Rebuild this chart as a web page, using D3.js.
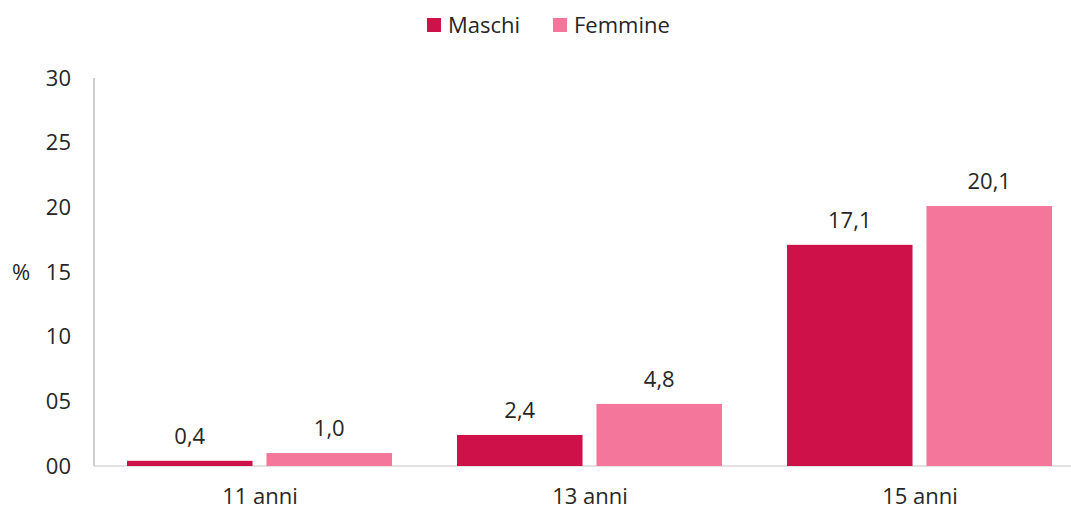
<!DOCTYPE html>
<html>
<head>
<meta charset="utf-8">
<script src="https://cdnjs.cloudflare.com/ajax/libs/d3/7.8.5/d3.min.js"></script>
<style>
  body { margin: 0; background: #fff; }
  svg text { font-family: "Open Sans", "Noto Sans", sans-serif; fill: #262626; font-size: 22px; }
</style>
</head>
<body>
<svg id="chart" width="1071" height="511"></svg>
<script>
// data
var categories = ["11 anni", "13 anni", "15 anni"];
var series = ["Maschi", "Femmine"];
var maschi = [0.4, 2.4, 17.1];
var femmine = [1.0, 4.8, 20.1];
var yTicks = [0, 5, 10, 15, 20, 25, 30];
var yTickLabels = ["00", "05", "10", "15", "20", "25", "30"];
var colors = ["#ce1149", "#f4769a"];

var svg = d3.select("#chart");
var mLeft = 94, mRight = 1084, mTop = 78, mBottom = 466;

var x = d3.scaleBand().domain(categories).range([mLeft, mRight]);
var xs = d3.scaleBand().domain(series).range([33, 298]).paddingInner(0.1);
var y = d3.scaleLinear().domain([0, 30]).range([mBottom, mTop]);

// axes lines
svg.append("line").attr("x1", mLeft).attr("x2", 1071).attr("y1", mBottom).attr("y2", mBottom)
  .attr("stroke", "#d9d9d9").attr("stroke-width", 1.5);
svg.append("line").attr("x1", mLeft).attr("x2", mLeft).attr("y1", mTop).attr("y2", mBottom)
  .attr("stroke", "#bfbfbf").attr("stroke-width", 1.5);

// y tick labels
svg.selectAll("text.ytick").data(yTicks).enter().append("text")
  .attr("class", "ytick")
  .attr("x", 71).attr("y", function(d) { return y(d); })
  .attr("dy", "0.35em").attr("text-anchor", "end")
  .text(function(d, i) { return yTickLabels[i]; });

svg.append("text").attr("x", 21).attr("y", y(15)).attr("dy", "0.35em")
  .attr("text-anchor", "middle").text("%");

// x labels
svg.selectAll("text.xtick").data(categories).enter().append("text")
  .attr("class", "xtick")
  .attr("x", function(d) { return x(d) + x.bandwidth() / 2 + 1; })
  .attr("y", 496).attr("dy", "0.35em").attr("text-anchor", "middle")
  .text(function(d) { return d; });

// bars
var rows = categories.map(function(c, i) {
  return { cat: c, vals: [{ s: series[0], v: maschi[i] }, { s: series[1], v: femmine[i] }] };
});

var groups = svg.selectAll("g.cat").data(rows).enter().append("g")
  .attr("class", "cat")
  .attr("transform", function(d) { return "translate(" + x(d.cat) + ",0)"; });

groups.selectAll("rect").data(function(d) { return d.vals; }).enter().append("rect")
  .attr("x", function(d) { return xs(d.s); })
  .attr("width", xs.bandwidth())
  .attr("y", function(d) { return y(d.v); })
  .attr("height", function(d) { return mBottom - y(d.v); })
  .attr("fill", function(d, i) { return colors[i]; });

groups.selectAll("text.val").data(function(d) { return d.vals; }).enter().append("text")
  .attr("class", "val")
  .attr("x", function(d) { return xs(d.s) + xs.bandwidth() / 2; })
  .attr("y", function(d) { return y(d.v) - 25; })
  .attr("dy", "0.35em").attr("text-anchor", "middle")
  .text(function(d) { return d.v.toFixed(1).replace(".", ","); });

// legend
var legend = svg.selectAll("g.leg").data(series).enter().append("g")
  .attr("class", "leg")
  .attr("transform", function(d, i) { return "translate(" + (427 + i * 126) + ",18)"; });
legend.append("rect").attr("width", 14).attr("height", 14)
  .attr("fill", function(d, i) { return colors[i]; });
legend.append("text").attr("x", 21).attr("y", 7).attr("dy", "0.35em")
  .text(function(d) { return d; });
</script>
</body>
</html>
